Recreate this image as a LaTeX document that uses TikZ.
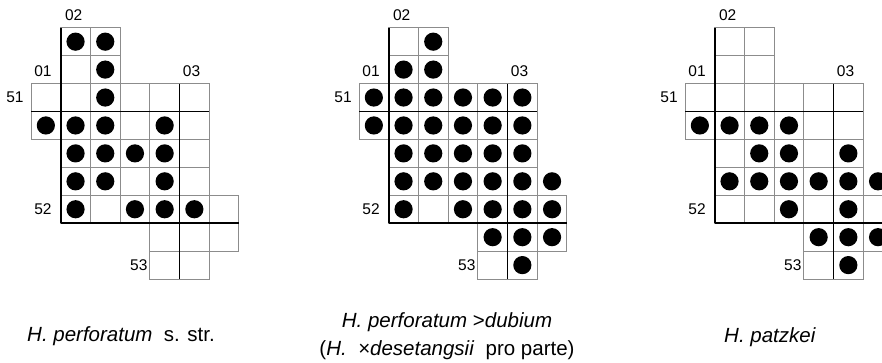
\documentclass[tikz,border=0pt]{standalone}
\usepackage{fontspec}
\setmainfont{Liberation Sans}
\begin{document}
\begin{tikzpicture}[x=1pt,y=-1pt,
  cell/.style={draw=black!45, line width=0.9pt},
  sepline/.style={draw=black, line width=1.8pt},
  dotmark/.style={fill=black},
  lbl/.style={inner sep=0pt, font=\fontsize{15.5}{18}\selectfont},
  captext/.style={inner sep=0pt, anchor=base, font=\fontsize{20.5}{24}\selectfont}]
\def\cw{29.7}
\def\ch{27.93}
\useasboundingbox (0,0) rectangle (882,362);
\clip (0,0) rectangle (882,362);
\newcommand\mygrid[2]{%
  \begin{scope}[shift={(#1,27.7)}]
    \foreach \c/\r in {1/0,2/0,1/1,2/1,0/2,1/2,2/2,3/2,4/2,5/2,0/3,1/3,2/3,3/3,4/3,5/3,
      1/4,2/4,3/4,4/4,5/4,1/5,2/5,3/5,4/5,5/5,1/6,2/6,3/6,4/6,5/6,6/6,4/7,5/7,6/7,4/8,5/8}
      \draw[cell] ({\c*\cw},{\r*\ch}) rectangle ++(\cw,\ch);
    \draw[sepline] (\cw,0) -- (\cw,{7*\ch});
    \draw[sepline] (0,{3*\ch}) -- ({6*\cw},{3*\ch});
    \draw[sepline] ({5*\cw},{2*\ch}) -- ({5*\cw},{9*\ch});
    \draw[sepline] (\cw,{7*\ch}) -- ({7*\cw},{7*\ch});
    \foreach \c/\r in {#2}
      \fill[dotmark] ({(\c+0.5)*\cw},{(\r+0.5)*\ch}) circle (9.1);
    \node[lbl] at ({\cw+13},-12.5) {02};
    \node[lbl] at (12,43.3) {01};
    \node[lbl] at ({5*\cw+12},43.3) {03};
    \node[lbl] at (-16,{2.5*\ch}) {51};
    \node[lbl] at (12,{6.5*\ch}) {52};
    \node[lbl] at ({4*\cw-11},{8.5*\ch}) {53};
  \end{scope}}
\mygrid{31}{1/0,2/0,2/1,2/2,0/3,1/3,2/3,4/3,1/4,2/4,3/4,4/4,1/5,2/5,4/5,1/6,3/6,4/6,5/6}
\mygrid{359}{2/0,1/1,2/1,0/2,1/2,2/2,3/2,4/2,5/2,0/3,1/3,2/3,3/3,4/3,5/3,1/4,2/4,3/4,4/4,5/4,1/5,2/5,3/5,4/5,5/5,6/5,1/6,3/6,4/6,5/6,6/6,4/7,5/7,6/7,5/8}
\mygrid{685}{0/3,1/3,2/3,3/3,2/4,3/4,5/4,1/5,2/5,3/5,4/5,5/5,6/5,3/6,5/6,4/7,5/7,6/7,5/8}
\node[captext] (c1) at (121,341) {\textit{H. perforatum}\ \ s. str.};
\node[captext] (c2a) at (447,327) {\textit{H. perforatum} >\textit{dubium}};
\node[captext] (c2b) at (447,355) {(\textit{H.\ \ ×desetangsii}\ \ pro parte)};
\node[captext] (c3) at (770,342) {\textit{H. patzkei}};
\end{tikzpicture}
\end{document}
